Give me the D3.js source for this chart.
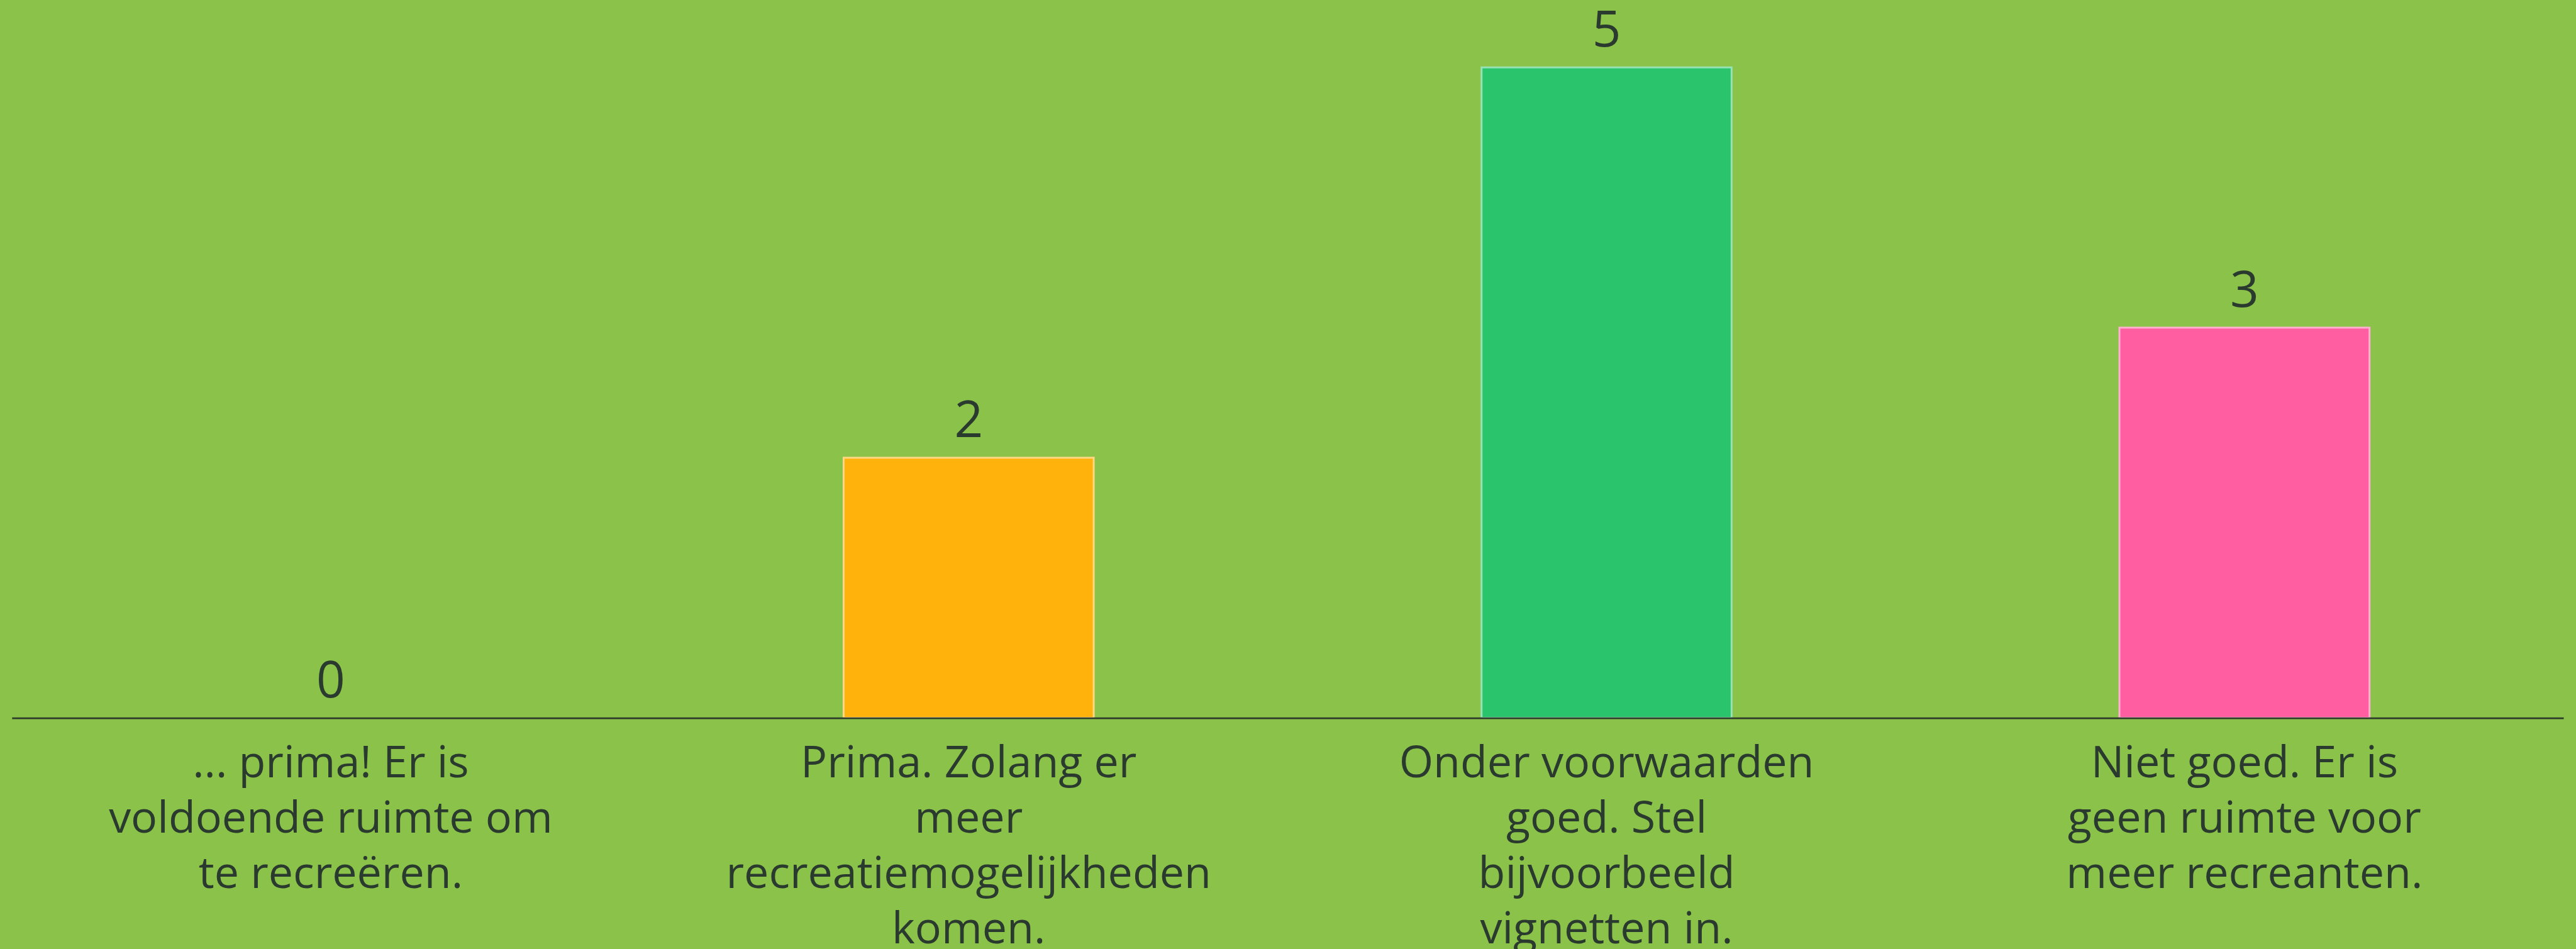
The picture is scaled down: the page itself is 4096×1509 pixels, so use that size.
<!DOCTYPE html>
<html>
<head>
<meta charset="utf-8">
<script src="https://cdn.jsdelivr.net/npm/d3@7"></script>
<style>
  html, body { margin: 0; padding: 0; background: #8bc34a; overflow: hidden; }
  svg { display: block; }
</style>
</head>
<body>
<svg id="chart"></svg>
<script>
// data
const categories = ["a", "b", "c", "d"];
const values = [0, 2, 5, 3];
const labelLines = [
    ["... prima! Er is", "voldoende ruimte om", "te recreëren."],
    ["Prima. Zolang er", "meer", "recreatiemogelijkheden", "komen."],
    ["Onder voorwaarden", "goed. Stel", "bijvoorbeeld", "vignetten in."],
    ["Niet goed. Er is", "geen ruimte voor", "meer recreanten."]
];
const barColors = ["#8bc34a", "#ffb10c", "#2ac46c", "#ff5ea0"];

const width = 4096;
const height = 1509;
const baseY = 1141.6;
const topY = 107.2;

const svg = d3.select("#chart")
    .attr("width", width)
    .attr("height", height);

svg.append("rect")
    .attr("width", width)
    .attr("height", height)
    .attr("fill", "#8bc34a");

// schalen
const x = d3.scaleBand()
    .domain(categories)
    .range([18.8, 4076])
    .paddingInner(0.608)
    .paddingOuter(0.304);

const y = d3.scaleLinear()
    .domain([0, 5])
    .range([baseY, topY]);

// staven
svg.selectAll(".bar")
    .data(values)
    .enter()
    .append("rect")
    .attr("class", "bar")
    .attr("x", (d, i) => x(categories[i]))
    .attr("y", d => y(d))
    .attr("width", x.bandwidth())
    .attr("height", d => baseY - y(d))
    .attr("fill", (d, i) => barColors[i])
    .attr("stroke", (d, i) => d3.interpolateRgb(barColors[i], "#ffffff")(0.5))
    .attr("stroke-width", 3)
    .style("display", d => d === 0 ? "none" : null);

// x-as
const xAxis = d3.axisBottom(x).tickSize(0).tickFormat("");
const axisG = svg.append("g")
    .attr("transform", `translate(0,${baseY})`)
    .call(xAxis);
axisG.select(".domain")
    .attr("stroke", "#2c3b2a")
    .attr("stroke-width", 2.7);

// waarden boven de staven
svg.selectAll(".value")
    .data(values)
    .enter()
    .append("text")
    .attr("class", "value")
    .attr("x", (d, i) => x(categories[i]) + x.bandwidth() / 2)
    .attr("y", d => y(d) - 33)
    .attr("text-anchor", "middle")
    .attr("fill", "#2b3a2e")
    .style("font-family", "'Open Sans', sans-serif")
    .style("font-size", "80px")
    .text(d => d);

// categorie labels
const labels = svg.selectAll(".cat")
    .data(labelLines)
    .enter()
    .append("text")
    .attr("class", "cat")
    .attr("text-anchor", "middle")
    .attr("fill", "#2b3a2e")
    .style("font-family", "'Open Sans', sans-serif")
    .style("font-size", "70px");

labels.each(function (lines, i) {
    const cx = x(categories[i]) + x.bandwidth() / 2;
    d3.select(this).selectAll("tspan")
        .data(lines)
        .enter()
        .append("tspan")
        .attr("x", cx)
        .attr("y", (d, j) => 1236 + j * 88)
        .text(d => d);
});
</script>
</body>
</html>
